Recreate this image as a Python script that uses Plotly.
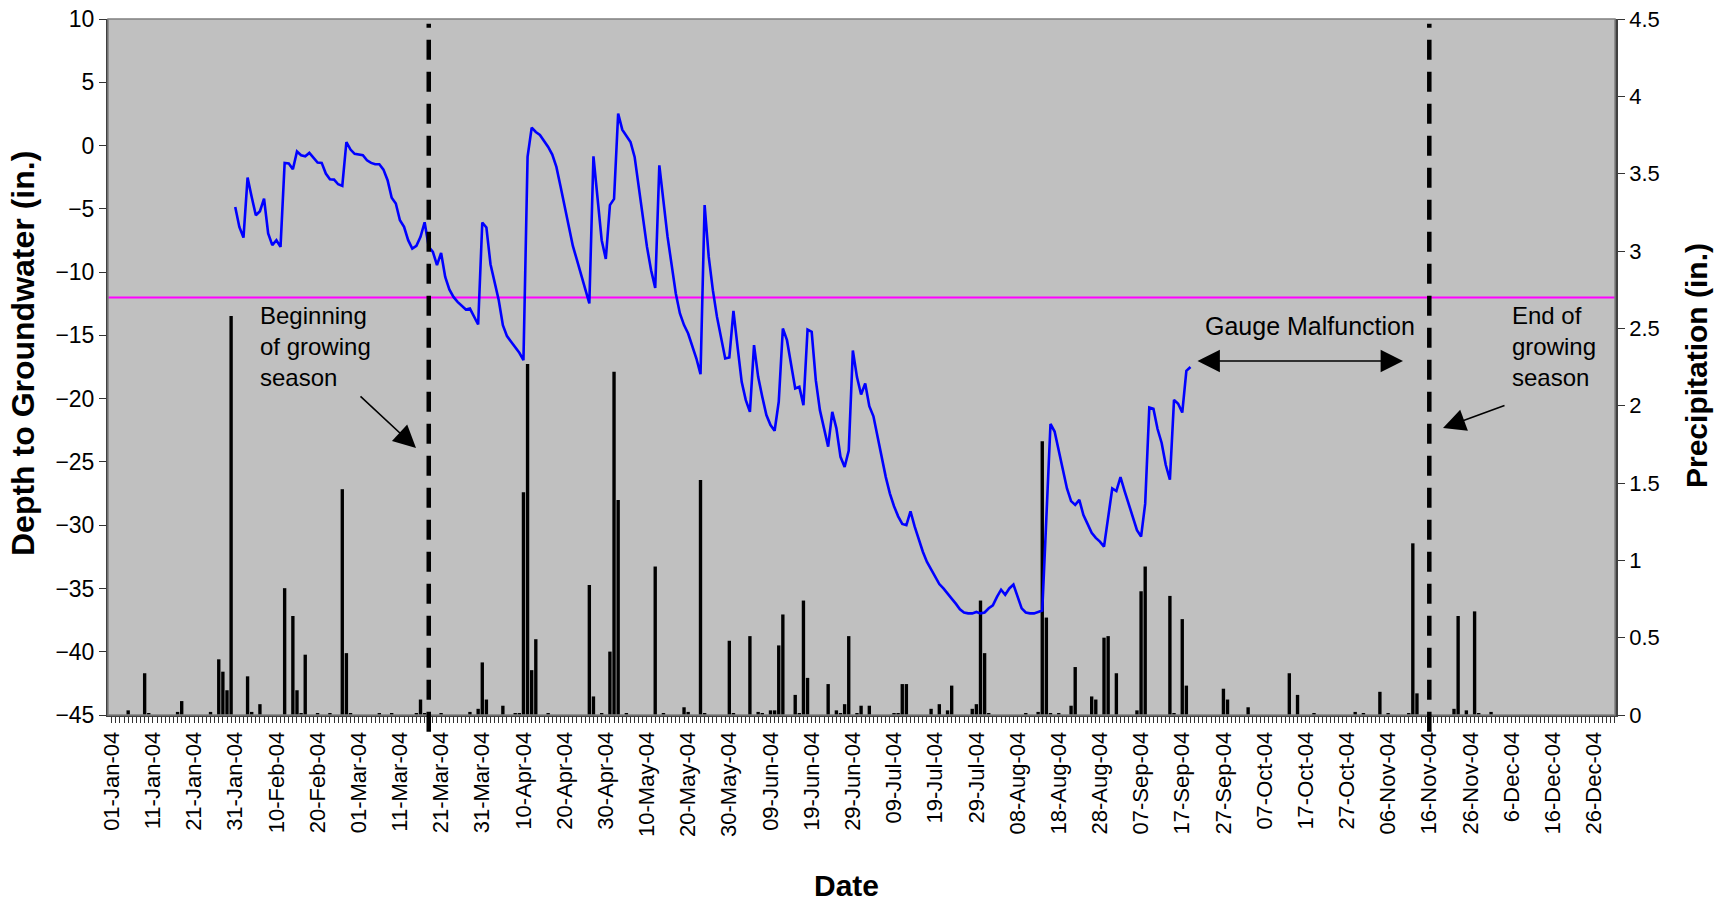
import plotly.graph_objects as go
import pandas as pd

# ---------------- data ----------------
year_start = pd.Timestamp("2004-01-01")
DAY_MS = 86400000

# daily depth to groundwater (in.), starting 31-Jan-04
gw_start = "2004-01-31"
gw_depth = [
    -4.85, -6.43, -7.27, -2.53, -4.06, -5.51, -5.19, -4.19, -6.95, -7.87,
    -7.48, -8.01, -1.37, -1.42, -1.87, -0.47, -0.77, -0.85, -0.58, -0.98,
    -1.34, -1.37, -2.21, -2.66, -2.69, -3.06, -3.19, 0.28, -0.32, -0.66,
    -0.74, -0.77, -1.16, -1.37, -1.48, -1.48, -1.90, -2.74, -4.13, -4.58,
    -5.90, -6.43, -7.48, -8.14, -7.93, -7.22, -6.06, -8.01, -8.40, -9.45,
    -8.48, -10.38, -11.37, -11.96, -12.35, -12.67, -12.96, -12.88, -13.54, -14.14,
    -6.08, -6.48, -9.38, -10.85, -12.22, -14.19, -15.06, -15.51, -15.91, -16.38,
    -16.96, -0.90, 1.42, 1.07, 0.84, 0.36, -0.11, -0.71, -1.69, -3.21,
    -4.85, -6.43, -7.93, -9.06, -10.25, -11.37, -12.48, -0.85, -4.32, -7.48,
    -8.96, -4.71, -4.22, 2.53, 1.26, 0.73, 0.28, -0.90, -3.27, -5.64,
    -8.01, -9.85, -11.25, -1.56, -4.32, -7.22, -9.45, -11.69, -13.27, -14.19,
    -14.85, -15.77, -16.83, -18.07, -4.71, -8.80, -11.43, -13.54, -15.12, -16.83,
    -16.75, -13.06, -15.91, -18.67, -20.12, -21.04, -15.77, -18.28, -19.86, -21.30,
    -22.09, -22.54, -20.25, -14.46, -15.38, -17.22, -19.20, -19.07, -20.51, -14.54,
    -14.72, -18.54, -20.91, -22.35, -23.80, -21.04, -22.35, -24.60, -25.40, -24.10,
    -16.20, -18.30, -19.67, -18.80, -20.60, -21.40, -23.00, -24.60, -26.20, -27.50,
    -28.50, -29.30, -29.90, -30.00, -28.90, -30.10, -31.20, -32.10, -32.90, -33.50,
    -34.10, -34.65, -35.00, -35.45, -35.80, -36.20, -36.65, -36.90, -36.97, -36.97,
    -36.86, -36.97, -36.90, -36.57, -36.33, -35.66, -35.10, -35.50, -35.00, -34.70,
    -35.66, -36.57, -36.90, -36.97, -36.97, -36.85, -36.75, -29.40, -22.00, -22.60,
    -24.20, -25.70, -27.10, -28.10, -28.40, -28.00, -29.20, -29.90, -30.60, -31.00,
    -31.30, -31.70, -29.40, -27.10, -27.30, -26.20, -27.30, -28.40, -29.50, -30.40,
    -30.90, -28.30, -20.70, -20.80, -22.40, -23.50, -25.25, -26.40, -20.10, -20.40,
    -21.10, -17.80, -17.50,
]

# daily precipitation (in.): day of year (0 = 01-Jan-04) and amount
rain_day = [4, 8, 9, 16, 17, 24, 26, 27, 28, 29, 33, 34, 36, 42, 44, 45, 46, 47, 50, 53,
            56, 57, 58, 65, 68, 74, 75, 76, 80, 87, 89, 90, 91, 95, 98, 99, 100, 101, 102, 103,
            106, 116, 117, 119, 121, 122, 123, 125, 132, 134, 139, 140, 143, 144, 150, 151, 155,
            157, 158, 160, 161, 162, 163, 166, 167, 168, 169, 174, 176, 177, 178, 179, 181, 182,
            184, 190, 191, 192, 193, 199, 201, 203, 204, 209, 210, 211, 212, 213, 222, 225, 226,
            227, 228, 230, 233, 234, 238, 239, 241, 242, 244, 249, 250, 251, 257, 258, 260, 261,
            270, 271, 276, 286, 288, 292, 302, 304, 308, 310, 315, 316, 317, 326, 327, 329, 331,
            332, 335]
rain_in = [0.03, 0.27, 0.01, 0.02, 0.09, 0.02, 0.36, 0.28, 0.16, 2.58, 0.25, 0.02, 0.07, 0.82,
           0.64, 0.16, 0.01, 0.39, 0.01, 0.01, 1.46, 0.40, 0.01, 0.01, 0.01, 0.01, 0.10, 0.01,
           0.01, 0.02, 0.04, 0.34, 0.10, 0.06, 0.01, 0.01, 1.44, 2.27, 0.29, 0.49, 0.01, 0.84,
           0.12, 0.01, 0.41, 2.22, 1.39, 0.01, 0.96, 0.01, 0.05, 0.02, 1.52, 0.01, 0.48, 0.01,
           0.51, 0.02, 0.01, 0.03, 0.03, 0.45, 0.65, 0.13, 0.01, 0.74, 0.24, 0.20, 0.03, 0.01,
           0.07, 0.51, 0.01, 0.06, 0.06, 0.01, 0.01, 0.20, 0.20, 0.04, 0.07, 0.03, 0.19, 0.04,
           0.07, 0.74, 0.40, 0.01, 0.01, 0.02, 1.77, 0.63, 0.01, 0.01, 0.06, 0.31, 0.12, 0.10,
           0.50, 0.51, 0.27, 0.03, 0.80, 0.96, 0.77, 0.01, 0.62, 0.19, 0.17, 0.10, 0.05, 0.27,
           0.13, 0.01, 0.02, 0.01, 0.15, 0.01, 0.01, 1.11, 0.14, 0.04, 0.64, 0.03, 0.67, 0.01,
           0.02]

tick_labels = ["01-Jan-04", "11-Jan-04", "21-Jan-04", "31-Jan-04", "10-Feb-04", "20-Feb-04",
               "01-Mar-04", "11-Mar-04", "21-Mar-04", "31-Mar-04", "10-Apr-04", "20-Apr-04",
               "30-Apr-04", "10-May-04", "20-May-04", "30-May-04", "09-Jun-04", "19-Jun-04",
               "29-Jun-04", "09-Jul-04", "19-Jul-04", "29-Jul-04", "08-Aug-04", "18-Aug-04",
               "28-Aug-04", "07-Sep-04", "17-Sep-04", "27-Sep-04", "07-Oct-04", "17-Oct-04",
               "27-Oct-04", "06-Nov-04", "16-Nov-04", "26-Nov-04", "6-Dec-04", "16-Dec-04",
               "26-Dec-04"]

criterion_depth = -12          # in.
season_start = "2004-03-18"
season_end = "2004-11-16"

# ---------------- derived ----------------
gw_dates = pd.date_range(gw_start, periods=len(gw_depth), freq="D")
rain_dates = [year_start + pd.Timedelta(days=d) for d in rain_day]
tick_dates = pd.date_range(year_start, periods=len(tick_labels), freq="10D")

W, H = 1725, 904
L, R, T, B = 108, 110, 19, 189
pw, ph = W - L - R, H - T - B


def px(xp):
    return (xp - L) / pw


def py(yp):
    return (H - B - yp) / ph


FONT = "Liberation Sans, Arial, sans-serif"

fig = go.Figure()
fig.add_trace(go.Bar(x=rain_dates, y=rain_in, width=0.82 * DAY_MS,
                     marker=dict(color="black", line=dict(width=0)),
                     yaxis="y", hoverinfo="skip", showlegend=False))
fig.add_trace(go.Scatter(x=gw_dates, y=gw_depth, mode="lines",
                         line=dict(color="#0000FF", width=2.6),
                         yaxis="y2", hoverinfo="skip", showlegend=False))

x_range = [year_start - pd.Timedelta(hours=21.6), year_start + pd.Timedelta(days=365, hours=2.4)]

fig.update_layout(
    width=W, height=H,
    margin=dict(l=L, r=R, t=T, b=B, autoexpand=False),
    paper_bgcolor="white", plot_bgcolor="#C0C0C0",
    font=dict(family=FONT, color="black", size=22),
    showlegend=False,
    xaxis=dict(type="date", range=x_range, tickvals=tick_dates, ticktext=tick_labels,
               tickangle=-90, tickfont=dict(size=22), ticks="outside", ticklen=6,
               tickcolor="#333", showline=True, linecolor="#404040", linewidth=2,
               showgrid=False, zeroline=False, automargin=False,
               minor=dict(ticks="outside", ticklen=6, tickcolor="#333",
                          dtick=DAY_MS, tick0="2004-01-01", showgrid=False)),
    yaxis=dict(side="right", range=[0, 4.5], dtick=0.5, ticks="outside", ticklen=7,
               tickcolor="#333", showline=True, linecolor="#404040", linewidth=2.5,
               showgrid=False, zeroline=False, tickfont=dict(size=22), automargin=False),
    yaxis2=dict(overlaying="y", side="left", range=[-45, 10], dtick=5, ticks="outside",
                ticklen=7, tickcolor="#333", showline=True, linecolor="#404040", linewidth=2,
                showgrid=False, zeroline=False, tickfont=dict(size=23), automargin=False),
)

shapes = [
    dict(type="rect", xref="paper", yref="paper", x0=0, x1=1, y0=0, y1=1,
         line=dict(color="#808080", width=1.5), layer="above"),
    dict(type="line", xref="paper", yref="y2", x0=0, x1=1, y0=criterion_depth, y1=criterion_depth,
         line=dict(color="#FF00FF", width=2), layer="below"),
]
for d in (season_start, season_end):
    shapes.append(dict(type="line", xref="x", yref="paper", x0=d, x1=d, y0=-0.024, y1=0.993,
                       line=dict(color="black", width=4.5, dash="20px,12px"), layer="above"))
fig.update_layout(shapes=shapes)

ann = []
# axis titles
ann.append(dict(xref="paper", yref="paper", x=px(23), y=py(354), text="<b>Depth to Groundwater (in.)</b>",
                textangle=-90, showarrow=False, font=dict(size=32), xanchor="center", yanchor="middle"))
ann.append(dict(xref="paper", yref="paper", x=px(1696), y=py(366), text="<b>Precipitation (in.)</b>",
                textangle=-90, showarrow=False, font=dict(size=30), xanchor="center", yanchor="middle"))
ann.append(dict(xref="paper", yref="paper", x=px(846), y=py(886), text="<b>Date</b>",
                showarrow=False, font=dict(size=30), xanchor="center", yanchor="middle"))
# text labels
ann.append(dict(xref="paper", yref="paper", x=px(258), y=py(300), text="Beginning<br>of growing<br>season",
                showarrow=False, align="left", xanchor="left", yanchor="top", font=dict(size=24)))
ann.append(dict(xref="paper", yref="paper", x=px(1310), y=py(326), text="Gauge Malfunction",
                showarrow=False, xanchor="center", yanchor="middle", font=dict(size=25)))
ann.append(dict(xref="paper", yref="paper", x=px(1510), y=py(300), text="End of<br>growing<br>season",
                showarrow=False, align="left", xanchor="left", yanchor="top", font=dict(size=24)))
# arrows
ann.append(dict(xref="paper", yref="paper", x=px(416), y=py(448), ax=359 - 416, ay=395 - 448,
                text="", showarrow=True, arrowhead=2, arrowsize=2.8, arrowwidth=1.6, arrowcolor="black",
                standoff=0, startstandoff=0))
ann.append(dict(xref="paper", yref="paper", x=px(1443), y=py(428), ax=1506 - 1443, ay=405 - 428,
                text="", showarrow=True, arrowhead=2, arrowsize=2.8, arrowwidth=1.6, arrowcolor="black",
                standoff=0, startstandoff=0))
ann.append(dict(xref="paper", yref="paper", x=px(1403), y=py(361), ax=1196 - 1403, ay=0,
                text="", showarrow=True, arrowhead=2, startarrowhead=2, arrowside="end+start",
                arrowsize=2.8, startarrowsize=2.8, arrowwidth=1.6, arrowcolor="black",
                standoff=0, startstandoff=0))
fig.update_layout(annotations=ann)

fig.write_html("out.html", config={"displayModeBar": False},
               post_script="document.body.style.margin='0';document.body.style.overflow='hidden';")
